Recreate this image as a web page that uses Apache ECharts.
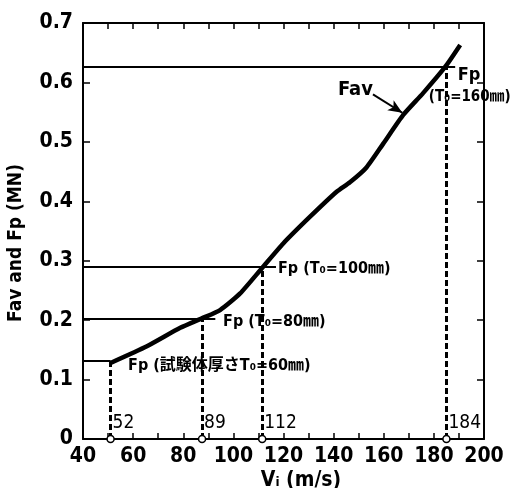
<!DOCTYPE html>
<html><head><meta charset="utf-8">
<script src="https://cdn.jsdelivr.net/npm/echarts@6/dist/echarts.min.js"></script>
<style>html,body{margin:0;padding:0;background:#fff}#c{width:512px;height:488px}</style>
</head><body><div id="c"></div>
<script>
// Fav curve
const favV = [51, 65.5, 78.8, 87.4, 94.7, 102.7, 111.3, 119.9, 130.6, 141.2, 146.5, 153.1, 159.8, 167.7, 175.7, 184.5, 190.5];
const favF = [0.128, 0.156, 0.187, 0.203, 0.217, 0.245, 0.287, 0.329, 0.374, 0.416, 0.432, 0.457, 0.497, 0.545, 0.582, 0.626, 0.663];
// Fp points (drawn position, label value, force)
const fpV = [51, 87.5, 111.5, 185];
const fpLabels = ['52', '89', '112', '184'];
const fpF = [0.131, 0.202, 0.290, 0.626];
const fpLineEnd = [51, 92.8, 117, 188.5];
const xTicks = [40, 60, 80, 100, 120, 140, 160, 180, 200];
const yTicks = ['0', '0.1', '0.2', '0.3', '0.4', '0.5', '0.6', '0.7'];

const FN = '"DejaVu Sans Condensed", "DejaVu Sans", "Noto Sans CJK JP", sans-serif';
const chart = echarts.init(document.getElementById('c'), null, {renderer: 'canvas'});

const ann = [
  {t: 'Fp (T₀=100㎜)', v: 117.8, f: 0.286, s: 16},
  {t: 'Fp (T₀=80㎜)', v: 95.9, f: 0.197, s: 16},
  {t: 'Fp (試験体厚さT₀=60㎜)', v: 58.0, f: 0.123, s: 16},
  {t: 'Fp', v: 189.5, f: 0.612, s: 18},
  {t: '(T₀=160㎜)', v: 178, f: 0.575, s: 15},
  {t: 'Fav', v: 141.7, f: 0.587, s: 20}
];
const annData = ann.map(a => ({value: [a.v, a.f], label: {show: true, position: 'right', distance: 0, formatter: a.t, fontSize: a.s, fontWeight: 'bold', fontFamily: FN, color: '#000'}}));
fpV.forEach((v, i) => annData.push({value: [v, 0.026], label: {show: true, position: 'right', distance: 2, formatter: fpLabels[i], fontSize: 19, fontWeight: 'normal', fontFamily: FN, color: '#000'}}));

const axBase = {
  type: 'value', min: 40, max: 200, interval: 20,
  axisLine: {show: true, onZero: false, lineStyle: {color: '#000', width: 2}},
  axisTick: {show: true, inside: true, length: 6, lineStyle: {color: '#000', width: 1.5}},
  minorTick: {show: true, splitNumber: 2, length: 6, lineStyle: {color: '#000', width: 1.5}},
  splitLine: {show: false}, minorSplitLine: {show: false}
};
const ayBase = {
  type: 'value', min: 0, max: 0.7, interval: 0.1,
  axisLine: {show: true, onZero: false, lineStyle: {color: '#000', width: 2}},
  axisTick: {show: true, inside: true, length: 7, lineStyle: {color: '#000', width: 1.5}},
  splitLine: {show: false}
};

chart.setOption({
  animation: false,
  backgroundColor: '#fff',
  grid: {left: 83, right: 28, top: 23, bottom: 49, containLabel: false},
  xAxis: [
    Object.assign({}, axBase, {position: 'bottom', axisLabel: {show: true, margin: 7, color: '#000', fontSize: 21, fontWeight: 'bold', fontFamily: FN, formatter: v => xTicks.includes(v) ? String(v) : ''}}),
    Object.assign({}, axBase, {position: 'top', axisLabel: {show: false}})
  ],
  yAxis: [
    Object.assign({}, ayBase, {position: 'left', axisLabel: {show: true, margin: 10, color: '#000', fontSize: 21, fontWeight: 'bold', fontFamily: FN, formatter: v => yTicks[Math.round(v * 10)]}}),
    Object.assign({}, ayBase, {position: 'right', axisLabel: {show: false}})
  ],
  graphic: [
    {type: 'text', x: 16, y: 243, rotation: Math.PI / 2, style: {text: 'Fav and Fp (MN)', fill: '#000', font: 'bold 19px ' + FN, textAlign: 'center', textVerticalAlign: 'middle'}},
    {type: 'text', x: 301, y: 481, style: {text: 'Vᵢ (m/s)', fill: '#000', font: 'bold 21px ' + FN, textAlign: 'center', textVerticalAlign: 'middle'}}
  ],
  series: [
    {
      type: 'line', data: favV.map((v, i) => [v, favF[i]]), showSymbol: false, smooth: 0.2,
      lineStyle: {color: '#000', width: 4.5}, z: 5, silent: true,
      markLine: {
        silent: true, symbol: 'none', label: {show: false},
        data: fpF.map((f, i) => [
          {coord: [40, f], lineStyle: {color: '#000', width: 2, type: 'solid', opacity: 1}},
          {coord: [fpLineEnd[i], f]}
        ]).concat(fpV.map((v, i) => [
          {coord: [v, 0], lineStyle: {color: '#000', width: 3, type: [6, 3], opacity: 1}},
          {coord: [v, fpF[i]]}
        ])).concat([[
          {coord: [155.7, 0.580], symbol: 'none', lineStyle: {color: '#000', width: 2, type: 'solid', opacity: 1}},
          {coord: [167.4, 0.549], symbol: 'arrow', symbolSize: [9, 14]}
        ]])
      }
    },
    {
      type: 'scatter', data: fpV.map(v => [v, 0]), symbol: 'circle', symbolSize: 7, clip: false, z: 6, silent: true,
      itemStyle: {color: '#fff', borderColor: '#000', borderWidth: 1.5, opacity: 1}
    },
    {
      type: 'scatter', data: annData, symbolSize: 0, clip: false, z: 7, silent: true,
      itemStyle: {opacity: 1}
    }
  ]
});
</script></body></html>
